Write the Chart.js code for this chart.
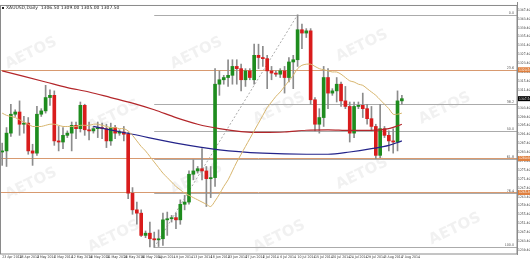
<!DOCTYPE html>
<html><head><meta charset="utf-8">
<script src="https://cdn.jsdelivr.net/npm/chart.js@4.4.1/dist/chart.umd.min.js"></script>
<style>html,body{margin:0;padding:0;background:#fff;}#wrap{width:530px;height:260px;overflow:hidden;}</style>
</head><body><div id="wrap"><canvas id="c" width="530" height="260"></canvas></div>
<script>
// ---------- DATA ----------
const _ = null;
const dates = ["23 Apr 2014","24 Apr 2014","25 Apr 2014","27 Apr 2014","28 Apr 2014","29 Apr 2014","30 Apr 2014","1 May 2014","2 May 2014","4 May 2014",
"5 May 2014","6 May 2014","7 May 2014","8 May 2014","9 May 2014","11 May 2014","12 May 2014","13 May 2014","14 May 2014","15 May 2014",
"16 May 2014","18 May 2014","19 May 2014","20 May 2014","21 May 2014","22 May 2014","23 May 2014","25 May 2014","26 May 2014","27 May 2014",
"28 May 2014","29 May 2014","30 May 2014","1 Jun 2014","2 Jun 2014","3 Jun 2014","4 Jun 2014","5 Jun 2014","6 Jun 2014","8 Jun 2014",
"9 Jun 2014","10 Jun 2014","11 Jun 2014","12 Jun 2014","13 Jun 2014","15 Jun 2014","16 Jun 2014","17 Jun 2014","18 Jun 2014","19 Jun 2014",
"20 Jun 2014","22 Jun 2014","23 Jun 2014","24 Jun 2014","25 Jun 2014","26 Jun 2014","27 Jun 2014","29 Jun 2014","30 Jun 2014","1 Jul 2014",
"2 Jul 2014","3 Jul 2014","4 Jul 2014","5 Jul 2014","6 Jul 2014","7 Jul 2014","8 Jul 2014","9 Jul 2014","10 Jul 2014","11 Jul 2014",
"13 Jul 2014","14 Jul 2014","15 Jul 2014","16 Jul 2014","17 Jul 2014","18 Jul 2014","20 Jul 2014","21 Jul 2014","22 Jul 2014","23 Jul 2014",
"24 Jul 2014","25 Jul 2014","27 Jul 2014","28 Jul 2014","29 Jul 2014","30 Jul 2014","31 Jul 2014","1 Aug 2014","3 Aug 2014","4 Aug 2014",
"5 Aug 2014","6 Aug 2014","7 Aug 2014"];

const opens = [1283.5,1284.0,1292.0,1300.5,1301.5,1296.0,1296.5,1284.0,1283.0,1300.5,
1302.0,1308.0,1309.0,1288.5,1288.0,1291.0,1292.0,1295.5,1294.0,1304.5,
1293.5,1293.0,1294.0,1294.5,1294.0,1288.5,1294.5,1292.0,1292.5,1291.5,
1265.0,1257.5,1256.0,1246.0,1247.0,1244.5,1244.0,1244.5,1253.0,1253.5,
1254.0,1253.0,1260.0,1261.0,1273.5,1275.0,1276.0,1275.0,1271.5,1272.0,
1314.0,1316.0,1317.0,1318.0,1322.0,1321.0,1316.0,1320.0,1316.0,1327.0,
1326.0,1325.5,1320.0,1319.0,1318.5,1320.0,1317.0,1324.0,1325.0,1338.5,
1337.0,1338.0,1307.0,1296.0,1299.0,1317.0,1310.0,1311.0,1314.0,1306.5,
1304.0,1292.0,1304.0,1304.5,1303.0,1298.5,1295.0,1282.0,1294.0,1291.0,
1288.5,1288.0,1306.5];

const highs = [1287.5,1294.5,1305.0,1302.5,1306.5,1299.5,1299.0,1287.0,1304.0,1303.0,
1313.5,1311.5,1311.0,1295.0,1294.5,1293.0,1297.0,1297.0,1306.0,1305.0,
1297.0,1295.0,1297.0,1296.5,1296.0,1296.5,1295.5,1293.5,1295.0,1292.5,
1267.5,1261.0,1257.5,1248.0,1252.0,1247.5,1248.5,1256.0,1256.5,1255.0,
1256.0,1262.0,1264.0,1275.0,1280.0,1277.0,1285.0,1277.0,1277.0,1321.0,
1320.0,1318.0,1325.0,1325.0,1325.0,1323.0,1321.0,1321.0,1332.0,1332.0,
1331.0,1327.0,1322.0,1320.0,1321.0,1322.0,1326.0,1327.0,1345.2,1341.0,
1339.0,1339.0,1308.0,1303.0,1322.0,1321.0,1312.0,1317.0,1315.0,1313.0,
1306.0,1306.0,1306.0,1310.0,1305.0,1304.0,1296.0,1305.0,1295.0,1293.0,
1294.0,1311.0,1309.0];

const lows = [1277.5,1277.0,1290.5,1299.5,1291.0,1292.0,1282.5,1277.5,1282.0,1299.5,
1301.0,1304.5,1286.5,1284.0,1285.0,1290.0,1284.0,1289.5,1292.5,1291.0,
1289.0,1292.0,1290.0,1289.5,1285.5,1286.5,1289.5,1291.0,1288.5,1262.5,
1255.5,1251.0,1245.5,1245.0,1240.8,1240.6,1241.0,1241.5,1246.0,1252.0,
1249.0,1251.0,1257.5,1260.0,1271.0,1274.0,1271.0,1259.0,1263.0,1268.0,
1309.0,1314.0,1313.0,1314.0,1314.0,1311.0,1313.0,1316.0,1314.0,1321.0,
1322.0,1312.0,1316.0,1317.5,1317.0,1310.0,1315.0,1312.0,1322.0,1330.0,
1335.0,1305.0,1293.0,1292.0,1295.0,1303.0,1309.0,1306.0,1304.0,1303.0,
1288.0,1290.0,1303.0,1299.0,1296.0,1293.0,1280.5,1281.0,1290.0,1284.0,
1283.0,1284.0,1305.0];

const closes = [1284.0,1292.0,1300.5,1301.5,1296.0,1296.5,1284.0,1283.0,1300.5,1302.0,
1308.0,1309.0,1288.5,1288.0,1291.0,1292.0,1295.5,1294.0,1304.5,1293.5,
1293.0,1294.0,1294.5,1294.0,1288.5,1294.5,1292.0,1292.5,1291.5,1265.0,
1257.5,1256.0,1246.0,1247.0,1244.5,1244.0,1244.5,1253.0,1253.5,1254.0,
1253.0,1260.0,1261.0,1273.5,1275.0,1276.0,1275.0,1271.5,1272.0,1314.0,
1316.0,1317.0,1318.0,1322.0,1321.0,1316.0,1320.0,1317.0,1327.0,1326.0,
1325.5,1320.0,1319.0,1318.5,1320.0,1317.0,1324.0,1325.0,1338.5,1337.0,
1338.0,1307.0,1296.0,1299.0,1317.0,1310.0,1311.0,1314.0,1306.5,1304.0,
1292.0,1304.0,1304.5,1303.0,1298.5,1295.0,1282.0,1294.0,1291.0,1288.5,
1288.0,1306.5,1307.5];

// fast moving average (tan), one value per bar
const maFast = [1301,1300,1299.5,1299,1298,1297,1296,1295,1295,1295,
1295.5,1296,1296,1295.5,1295,1295,1295,1295,1295.5,1295.5,
1295.5,1296,1296,1295.5,1295,1294.5,1294.5,1294,1294,1293,
1291,1288.5,1286,1284,1281.5,1279,1276.5,1274,1272,1270,
1268,1266.5,1265,1264,1263,1262,1261,1260,1259,1261.5,
1264.5,1268,1271,1275,1279,1282.5,1286,1289.5,1293,1296.5,
1300,1303.5,1306,1308.5,1310.5,1313,1315.5,1318,1321,1322.5,
1323,1323,1322,1321,1320.5,1320,1319.5,1319.5,1318.5,1317,
1315.5,1315,1314,1313.5,1312,1310.5,1309,1307,1305,1303,
1300.5,1300.5,1301];

// medium moving average (red), read at a few bars (null = not read)
const maMid = [1320,_,_,_,_, 1317.5,_,_,_,_, 1315,_,_,_,_, 1312.5,_,_,_,_,
1310.5,_,_,_,_, 1308,_,_,_,_, 1305.5,_,_,_,_, 1302.5,_,_,_,_,
1299,_,_,_,_, 1296,_,_,_,_, 1294,_,_,_,_, 1292.7,_,_,_,_,
1292.3,_,_,_,_, 1292.5,_,_,_,_, 1293.3,_,_,_,_, 1293.5,_,_,_,_,
1293.2,_,_,_,_, 1293.2,_,_,_, 1294,_,_, 1296];

// slow moving average (navy), starts around 18 May
const maSlow = [_,_,_,_,_,_,_,_,_,_, _,_,_,_,_,_,_,_,_,_,
_,1295,_,_,_,_,_,_,_,_, 1291.5,_,_,_,_,_,_,_,_,_,
1287.5,_,_,_,_,_,_,_,_,_, 1284.5,_,_,_,_,_,_,_,_,_,
1283,_,_,_,_,_,_,_,_,_, 1282.5,_,_,_,_, 1282.5,_,_,_,_,
1283.5,_,_,_,_, 1285,_,_,_, 1286.5,_,_, 1288.5];

const yTickValues = [1347.40,1343.40,1339.40,1335.40,1331.40,1327.40,1323.40,1319.40,1315.40,1311.40,1307.40,1303.40,1299.40,1295.40,
1291.40,1287.40,1283.40,1279.40,1275.40,1271.40,1267.40,1263.40,1259.40,1255.40,1251.40,1247.40,1243.40,1239.40];

const fibLevels = [0, 23.6, 38.2, 50.0, 61.8, 76.4, 100.0];
const fibLow = 1240.6, fibHigh = 1345.2;
const fibStartBar = 35, fibEndBar = 68;
const levelLines = [1320.5, 1280.6, 1265.3];
const lastPrice = 1307.5;
const titleText = "XAUUSD,Daily  1306.50 1309.00 1305.00 1307.50";
const watermarkText = "AETOS";
const emptySlots = 26;

// ---------- CHART ----------
const labels = dates.concat(Array(emptySlots).fill(''));
const upCol = '#1e8c1e', dnCol = '#d91c1c';
const bodyColors = closes.map((c,i)=> c>=opens[i] ? upCol : dnCol);
const wmSpots = [[0.06,0.2],[0.38,0.2],[0.7,0.17],[0.22,0.45],[0.54,0.42],[0.86,0.42],[0.06,0.72],[0.38,0.7],[0.7,0.68],[0.22,0.93],[0.54,0.93],[0.88,0.9]];
const smallFont = '"DejaVu Sans Condensed","Liberation Sans Narrow","DejaVu Sans"';

const overlay = {
  id:'overlay',
  beforeDatasetsDraw(chart){
    const {ctx, chartArea:a, scales:{x,y}} = chart;
    ctx.save();
    ctx.beginPath(); ctx.rect(a.left,a.top,a.right-a.left,a.bottom-a.top); ctx.clip();
    ctx.font = 'bold 15px "DejaVu Sans"';
    ctx.fillStyle = 'rgba(150,150,150,0.13)';
    ctx.textAlign='center'; ctx.textBaseline='middle';
    wmSpots.forEach(([fx,fy])=>{
      ctx.save(); ctx.translate(a.left+fx*(a.right-a.left), a.top+fy*(a.bottom-a.top)); ctx.rotate(-0.45);
      ctx.fillText(watermarkText,0,0); ctx.restore();
    });
    const xs = x.getPixelForValue(fibStartBar), xe = x.getPixelForValue(fibEndBar);
    const range = fibHigh - fibLow;
    ctx.lineWidth = 1;
    ctx.strokeStyle = '#ababab';
    ctx.font = '3.6px ' + smallFont; ctx.fillStyle='#555'; ctx.textAlign='right'; ctx.textBaseline='bottom';
    fibLevels.forEach(lv=>{
      const p = fibHigh - range*lv/100;
      const py = Math.round(y.getPixelForValue(p))+0.5;
      ctx.beginPath(); ctx.moveTo(xs,py); ctx.lineTo(a.right,py); ctx.stroke();
      ctx.fillText(lv.toFixed(1), a.right-3, py-0.5);
    });
    ctx.setLineDash([2,2]);
    ctx.beginPath(); ctx.moveTo(xs, y.getPixelForValue(fibLow)); ctx.lineTo(xe, y.getPixelForValue(fibHigh)); ctx.stroke();
    ctx.setLineDash([]);
    ctx.strokeStyle = '#d89a70';
    levelLines.forEach(p=>{
      const py = Math.round(y.getPixelForValue(p))+0.5;
      ctx.beginPath(); ctx.moveTo(a.left,py); ctx.lineTo(a.right,py); ctx.stroke();
    });
    ctx.restore();
  },
  afterDraw(chart){
    const {ctx, chartArea:a, scales:{y}} = chart;
    ctx.save();
    ctx.font = '3.3px ' + smallFont; ctx.textBaseline='middle'; ctx.textAlign='left';
    const tag = (p,bg)=>{
      const py = y.getPixelForValue(p);
      ctx.fillStyle = bg; ctx.fillRect(a.right+1, py-2.5, 13, 5);
      ctx.fillStyle = '#fff'; ctx.fillText(p.toFixed(2), a.right+2, py);
    };
    levelLines.forEach(p=>tag(p,'#e0803f'));
    tag(lastPrice,'#000');
    ctx.strokeStyle = '#8a8a8a'; ctx.lineWidth=1;
    ctx.strokeRect(a.left+0.5, a.top+2.5, a.right-a.left-0.5, a.bottom-a.top-2.5);
    ctx.fillStyle='#222'; ctx.textBaseline='middle'; ctx.font='4.5px "DejaVu Sans"';
    ctx.fillRect(a.left+2, a.top+4, 2, 2);
    ctx.fillText(titleText, a.left+6, a.top+5);
    ctx.restore();
  }
};

new Chart(document.getElementById('c'), {
  data: {
    labels,
    datasets: [
      { type:'line', label:'fast', data: maFast, borderColor:'#d7b56d', borderWidth:1, pointRadius:0, tension:0.3, order:1 },
      { type:'line', label:'mid', data: maMid, spanGaps:true, borderColor:'#b3262a', borderWidth:1.2, pointRadius:0, cubicInterpolationMode:'monotone', order:1 },
      { type:'line', label:'slow', data: maSlow, spanGaps:true, borderColor:'#24248a', borderWidth:1.2, pointRadius:0, cubicInterpolationMode:'monotone', order:1 },
      { type:'bar', label:'body', data: opens.map((o,i)=>[o, closes[i]]), backgroundColor: bodyColors, barThickness:3, grouped:false, order:2, minBarLength:1 },
      { type:'bar', label:'wick', data: lows.map((l,i)=>[l, highs[i]]), backgroundColor: '#8c8c8c', barThickness:1, grouped:false, order:3 }
    ]
  },
  options: {
    responsive:false, animation:false, devicePixelRatio:1,
    layout:{ padding:{left:0,right:0,top:0,bottom:0} },
    plugins:{ legend:{display:false}, tooltip:{enabled:false} },
    scales:{
      x:{ type:'category', offset:true, grid:{display:false, drawTicks:false}, border:{display:false},
          ticks:{ autoSkip:false, maxRotation:0, minRotation:0, align:'start', padding:1, font:{size:3.5, family:smallFont}, color:'#333',
                  callback:(v,i)=> (i<dates.length && i%4===0) ? dates[i] : '' },
          afterFit:(s)=>{ s.height = 6; } },
      y:{ position:'right', min:1237.64, max:1350.53, grid:{display:false, drawTicks:false}, border:{display:true, color:'#8a8a8a'},
          afterBuildTicks:(s)=>{ s.ticks = yTickValues.map(v=>({value:v})); },
          ticks:{ padding:1, font:{size:3.3, family:smallFont}, color:'#333', callback:(v)=> Number(v).toFixed(2) },
          afterFit:(s)=>{ s.width = 13; } }
    }
  },
  plugins:[overlay]
});
</script>
</body></html>
